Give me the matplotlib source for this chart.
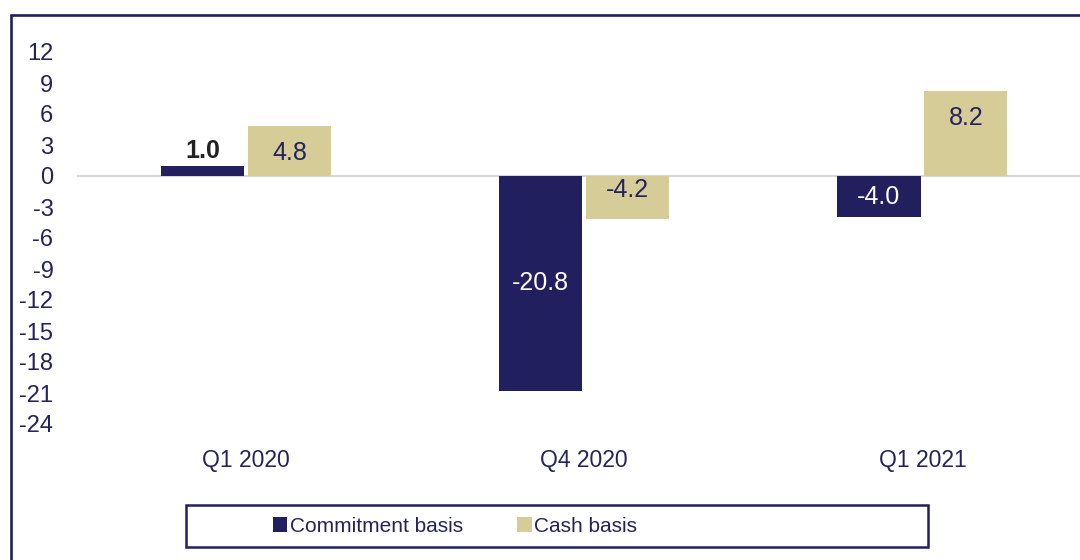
import matplotlib
matplotlib.use("Agg")
import matplotlib.pyplot as plt
import matplotlib.patches as patches
import numpy as np

# Data
quarters = ["Q1 2020", "Q4 2020", "Q1 2021"]
commitment = [1.0, -20.8, -4.0]
cash = [4.8, -4.2, 8.2]
series_names = ["Commitment basis", "Cash basis"]
y_ticks = [12, 9, 6, 3, 0, -3, -6, -9, -12, -15, -18, -21, -24]

# Style
NAVY = "#221f5e"
TAN = "#d5cc98"
TEXT = "#25235c"
plt.rcParams["font.family"] = ["Liberation Sans", "DejaVu Sans"]

fig = plt.figure(figsize=(10.8, 5.6), dpi=100)

# outer frame of the chart (cut off at right and bottom)
frame = patches.Rectangle((11 / 1080, -0.2), 1.3, 1.2 - 15 / 560,
                          transform=fig.transFigure, fill=False,
                          edgecolor=NAVY, linewidth=1.9, zorder=0)
fig.patches.append(frame)

ax = fig.add_axes((77 / 1080, 1 - 424 / 560, 1014.5 / 1080, 372 / 560))

x = np.arange(len(quarters))
w = 0.246
off = 0.1285
b1 = ax.bar(x - off, commitment, w, color=NAVY, label=series_names[0], zorder=3)
b2 = ax.bar(x + off, cash, w, color=TAN, label=series_names[1], zorder=3)

ax.axhline(0, color="#d9d9d9", linewidth=1.6, zorder=2)

# data labels
for xi, v in zip(x - off, commitment):
    if v > 0:
        ax.text(xi, v + 0.3, f"{v:.1f}", ha="center", va="bottom",
                fontsize=18, color="#222222", fontweight="bold")
    else:
        ax.text(xi, v / 2, f"{v:.1f}", ha="center", va="center",
                fontsize=18, color="white")
for xi, v in zip(x + off, cash):
    if v > 0:
        ax.text(xi, v - 2.6, f"{v:.1f}", ha="center", va="center",
                fontsize=18, color=TEXT)
    else:
        ax.text(xi, -1.4, f"{v:.1f}", ha="center", va="center",
                fontsize=18, color=TEXT)

ax.set_xlim(-0.5, 2.5)
ax.set_ylim(-24, 12)
ax.set_yticks(y_ticks)
ax.set_yticklabels([str(t) for t in y_ticks])
ax.set_xticks(x)
ax.set_xticklabels(quarters)
ax.tick_params(axis="y", length=0, pad=17, labelsize=17, labelcolor=TEXT)
ax.tick_params(axis="x", length=0, pad=18, labelsize=16.5, labelcolor=TEXT)
for s in ax.spines.values():
    s.set_visible(False)

# legend box
box = patches.Rectangle((186 / 1080, 1 - 547 / 560), 742 / 1080, 42 / 560,
                        transform=fig.transFigure, fill=False,
                        edgecolor=NAVY, linewidth=1.8)
fig.patches.append(box)
fig.legend(handles=[b1, b2], loc="center left",
           bbox_to_anchor=(254 / 1080, 1 - 526 / 560), ncol=2, frameon=False,
           handlelength=0.7, handleheight=0.7, handletextpad=0.12,
           columnspacing=2.6, labelcolor=TEXT,
           prop={"family": "Liberation Sans", "size": 15})

fig.savefig("out.png", dpi=100)
